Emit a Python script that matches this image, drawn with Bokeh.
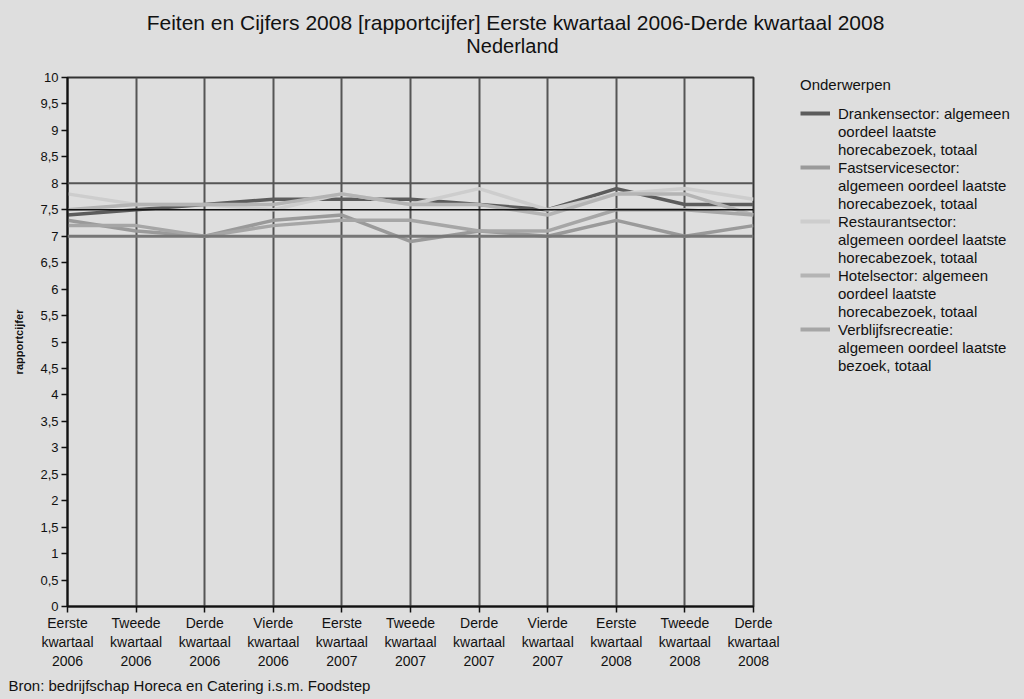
from bokeh.plotting import figure
from bokeh.models import (Range1d, FixedTicker, Span, Legend, LegendItem, Label)
from bokeh.layouts import column, row
from bokeh.embed import file_html
from bokeh.resources import INLINE

# ---------------- data ----------------
quarters = ["Eerste\nkwartaal\n2006", "Tweede\nkwartaal\n2006", "Derde\nkwartaal\n2006",
            "Vierde\nkwartaal\n2006", "Eerste\nkwartaal\n2007", "Tweede\nkwartaal\n2007",
            "Derde\nkwartaal\n2007", "Vierde\nkwartaal\n2007", "Eerste\nkwartaal\n2008",
            "Tweede\nkwartaal\n2008", "Derde\nkwartaal\n2008"]
drankensector = [7.4, 7.5, 7.6, 7.7, 7.7, 7.7, 7.6, 7.5, 7.9, 7.6, 7.6]
fastservicesector = [7.3, 7.1, 7.0, 7.3, 7.4, 6.9, 7.1, 7.0, 7.3, 7.0, 7.2]
restaurantsector = [7.8, 7.6, 7.6, 7.5, 7.8, 7.6, 7.9, 7.5, 7.8, 7.9, 7.7]
hotelsector = [7.5, 7.6, 7.6, 7.6, 7.8, 7.6, 7.6, 7.4, 7.8, 7.8, 7.4]
verblijfsrecreatie = [7.2, 7.2, 7.0, 7.2, 7.3, 7.3, 7.1, 7.1, 7.5, 7.5, 7.4]
series_labels = [
    ["Drankensector: algemeen", "oordeel laatste", "horecabezoek, totaal"],
    ["Fastservicesector:", "algemeen oordeel laatste", "horecabezoek, totaal"],
    ["Restaurantsector:", "algemeen oordeel laatste", "horecabezoek, totaal"],
    ["Hotelsector: algemeen", "oordeel laatste", "horecabezoek, totaal"],
    ["Verblijfsrecreatie:", "algemeen oordeel laatste", "bezoek, totaal"],
]
y_ticks = [i * 0.5 for i in range(21)]
y_tick_labels = ["0", "0,5", "1", "1,5", "2", "2,5", "3", "3,5", "4", "4,5", "5",
                 "5,5", "6", "6,5", "7", "7,5", "8", "8,5", "9", "9,5", "10"]
title_line1 = "Feiten en Cijfers 2008 [rapportcijfer] Eerste kwartaal 2006-Derde kwartaal 2008"
title_line2 = "Nederland"
legend_title = "Onderwerpen"
y_label = "rapportcijfer"
source_text = "Bron: bedrijfschap Horeca en Catering i.s.m. Foodstep"

# ---------------- styling ----------------
BG = "#dedede"
FONT = "Liberation Sans"
TXT = "#111111"
colors = ["#5c5c5c", "#9a9a9a", "#cdcdcd", "#b4b4b4", "#a6a6a6"]
W, H = 1024, 699
TITLE_H, SOURCE_H = 62, 24
CHART_W = 780
MID_H = H - TITLE_H - SOURCE_H
FRAME_TOP, FRAME_BOTTOM, FRAME_LEFT, FRAME_RIGHT = 77, 606, 67, 753


def blank(width, height):
    f = figure(width=width, height=height, output_backend="svg", toolbar_location=None,
               x_range=Range1d(0, width), y_range=Range1d(0, height),
               x_axis_type=None, y_axis_type=None, min_border=0)
    f.background_fill_color = BG
    f.border_fill_color = BG
    f.outline_line_color = None
    f.grid.visible = False
    return f


# ---------------- title strip ----------------
tfig = blank(W, TITLE_H)
tfig.add_layout(Label(x=515, y=TITLE_H - 22, text=title_line1, text_align="center",
                      text_baseline="middle", text_font=FONT, text_font_size="21px",
                      text_color=TXT))
tfig.add_layout(Label(x=512, y=TITLE_H - 45, text=title_line2, text_align="center",
                      text_baseline="middle", text_font=FONT, text_font_size="20px",
                      text_color=TXT))

# ---------------- chart ----------------
xs = list(range(len(quarters)))
series = [drankensector, fastservicesector, restaurantsector, hotelsector, verblijfsrecreatie]

p = figure(width=CHART_W, height=MID_H, output_backend="svg", toolbar_location=None,
           x_range=Range1d(0, len(quarters) - 1), y_range=Range1d(0, 10),
           min_border_left=FRAME_LEFT, min_border_right=CHART_W - FRAME_RIGHT,
           min_border_top=FRAME_TOP - TITLE_H,
           min_border_bottom=MID_H - (FRAME_BOTTOM - TITLE_H))
p.background_fill_color = BG
p.border_fill_color = BG
p.outline_line_color = "#333333"
p.outline_line_width = 2

p.xgrid.ticker = FixedTicker(ticks=xs)
p.xgrid.grid_line_color = "#555555"
p.xgrid.grid_line_width = 2
p.ygrid.grid_line_color = None
for loc, col, w in [(8, "#555555", 2), (7.5, "#111111", 1.5), (7, "#777777", 3)]:
    p.add_layout(Span(location=loc, dimension="width", line_color=col, line_width=w))

p.xaxis.ticker = FixedTicker(ticks=xs)
p.xaxis.major_label_overrides = {i: q for i, q in enumerate(quarters)}
p.yaxis.ticker = FixedTicker(ticks=y_ticks)
p.yaxis.major_label_overrides = {t: l for t, l in zip(y_ticks, y_tick_labels)}
for ax in (p.xaxis, p.yaxis):
    ax.axis_line_color = "#111111"
    ax.axis_line_width = 2
    ax.major_tick_line_color = "#111111"
    ax.major_tick_line_width = 1.5
    ax.major_tick_out = 6
    ax.major_tick_in = 0
    ax.minor_tick_line_color = None
    ax.major_label_text_font = FONT
    ax.major_label_text_color = TXT
p.xaxis.major_label_text_font_size = "14px"
p.yaxis.major_label_text_font_size = "13px"
p.xaxis.major_label_standoff = 2
p.yaxis.major_label_standoff = 3
p.yaxis.axis_label = y_label
p.yaxis.axis_label_text_font = FONT
p.yaxis.axis_label_text_font_size = "11px"
p.yaxis.axis_label_text_font_style = "bold"
p.yaxis.axis_label_text_color = TXT
p.yaxis.axis_label_standoff = 12

for vals, col in zip(series, colors):
    p.line(xs, vals, line_color=col, line_width=3.5)

# ---------------- legend panel ----------------
lfig = figure(width=W - CHART_W, height=MID_H, output_backend="svg", toolbar_location=None,
              x_range=Range1d(0, 1), y_range=Range1d(0, 1),
              x_axis_type=None, y_axis_type=None, min_border=0)
lfig.background_fill_color = BG
lfig.border_fill_color = BG
lfig.outline_line_color = BG
lfig.outline_line_width = 3
lfig.grid.visible = False
items = []
for lines, vals, col in zip(series_labels, series, colors):
    # hidden proxy renderer carrying the series style for the legend swatch
    r = lfig.line(x=xs, y=vals, line_color=col, line_width=4, visible=False)
    items.append(LegendItem(label=lines[0], renderers=[r]))
    for extra in lines[1:]:
        items.append(LegendItem(label=extra, renderers=[]))
legend = Legend(items=items, location=(20, 232))
legend.title = legend_title
legend.title_text_font = FONT
legend.title_text_font_size = "15px"
legend.title_text_font_style = "normal"
legend.title_text_color = TXT
legend.title_standoff = 11
legend.label_text_font = FONT
legend.label_text_font_size = "15px"
legend.label_text_color = TXT
legend.glyph_width = 30
legend.glyph_height = 18
legend.label_height = 18
legend.label_standoff = 8
legend.spacing = 0
legend.padding = 0
legend.margin = 0
legend.inactive_fill_alpha = 0
legend.background_fill_alpha = 0
legend.border_line_alpha = 0
lfig.add_layout(legend)

# ---------------- source strip ----------------
sfig = blank(W, SOURCE_H)
sfig.add_layout(Label(x=8, y=SOURCE_H - (685 - (H - SOURCE_H)), text=source_text,
                      text_align="left", text_baseline="middle", text_font=FONT,
                      text_font_size="15px", text_color=TXT))

mid = row(p, lfig, spacing=0, styles={"background-color": BG})
layout = column(tfig, mid, sfig, spacing=0, styles={"background-color": BG})
open("out.html", "w").write(file_html(layout, INLINE))
